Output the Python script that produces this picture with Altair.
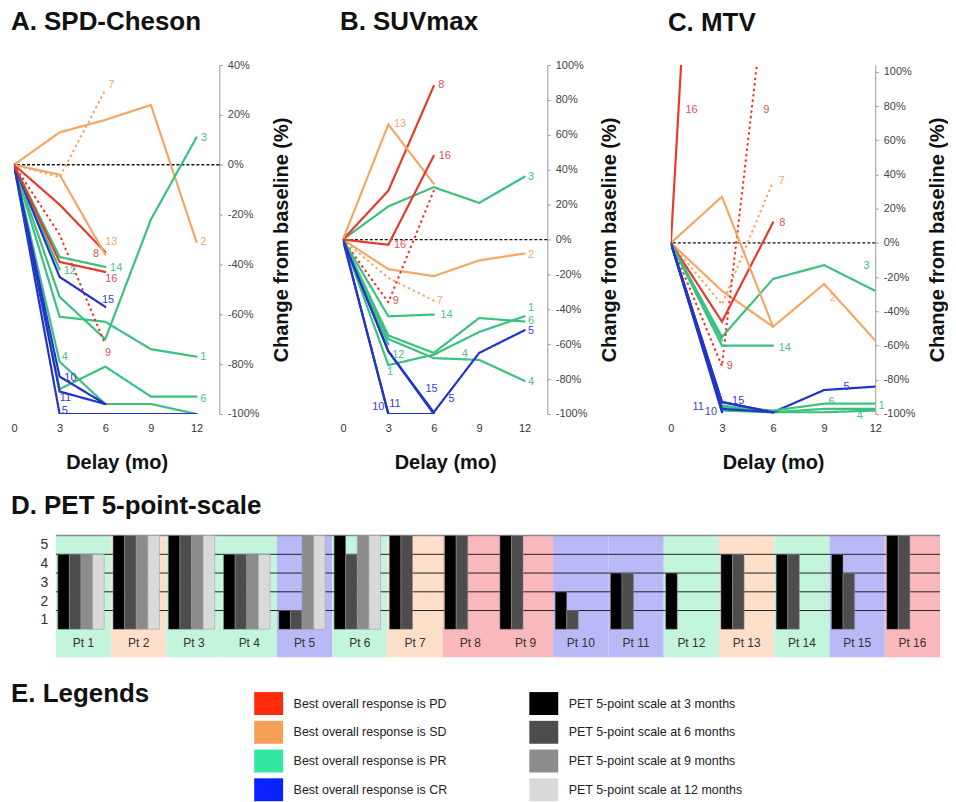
import altair as alt
import pandas as pd

FONT = "Liberation Sans"

months = [0, 3, 6, 9, 12]
patients = list(range(1, 17))
response = ["PR", "SD", "PR", "PR", "CR", "PR", "SD", "PD",
            "PD", "CR", "CR", "PR", "SD", "PR", "CR", "PD"]
dotted_patients = [7, 9]

resp_order = ["PD", "SD", "PR", "CR"]
line_colors = ["#e63a2c", "#f2a865", "#3cc080", "#2233cc"]
label_colors = ["#e0505e", "#f0a870", "#4cc08a", "#3c3ccc"]
legend_colors = ["#ff2a0a", "#f5a055", "#30e8a0", "#0a22ff"]
bg_colors = ["#f9b8bb", "#fddfca", "#c3f5dc", "#b9b9f7"]
gray_colors = ["#000000", "#4d4d4d", "#8c8c8c", "#d9d9d9"]

# ---- values (month 0,3,6,9,12) ----
spd = {
    1: [0, -61, -63, -74, -77], 2: [0, 13, 18, 24, -31], 3: [0, -53, -70, -22, 11],
    4: [0, -79, -96, -96, -100], 5: [0, -100, -100, -100, -100], 6: [0, -90, -81, -93, -93],
    7: [0, -5, 30], 8: [0, -16, -35], 9: [0, -28, -72], 10: [0, -85, -96],
    11: [0, -91, -96], 12: [0, -42], 13: [0, -4, -36], 14: [0, -37, -41],
    15: [0, -45, -57], 16: [0, -39, -43],
}
suv = {
    1: [0, -72, -66, -53, -44], 2: [0, -17, -21, -12, -8], 3: [0, 19, 30, 21, 36],
    4: [0, -57, -68, -69, -81], 5: [0, -64, -99, -65, -52], 6: [0, -55, -65, -45, -47],
    7: [0, -22, -35], 8: [0, 28, 88], 9: [0, -36, 28], 10: [0, -100],
    11: [0, -100, -100], 12: [0, -60], 13: [0, 66, 32], 14: [0, -44, -43],
    15: [0, -64, -100], 16: [0, -3, 48],
}
mtv = {
    1: [0, -95, -99, -97, -97], 2: [0, -28, -49, -24, -57], 3: [0, -55, -21, -13, -28],
    4: [0, -98, -99, -99, -98], 5: [0, -93, -99, -86, -84], 6: [0, -96, -98, -94, -94],
    7: [0, -36, 36], 8: [0, -46, 12], 9: [0, -72, 186], 10: [0, -99],
    11: [0, -97, -99], 12: [0, -57], 13: [0, 27, -49], 14: [0, -60, -60],
    15: [0, -93, -99], 16: [0, 520],
}

# patient-number labels: (patient, month, value)
spd_labels = [
    (7, 6.4, 32), (3, 12.5, 10.7), (2, 12.45, -31), (13, 6.4, -31), (8, 5.4, -36),
    (14, 6.72, -41.6), (16, 6.4, -46), (12, 3.67, -42.7), (15, 6.18, -54.3),
    (9, 6.18, -75.6), (1, 12.45, -77.3), (4, 3.34, -77.3), (10, 3.71, -85.7),
    (11, 3.38, -93.7), (6, 12.45, -94), (5, 3.34, -98.7),
]
suv_labels = [
    (8, 6.5, 88.6), (13, 3.77, 66), (16, 6.73, 47.6), (3, 12.43, 35.6), (16, 3.77, -3.4),
    (2, 12.43, -8.6), (9, 3.5, -35.2), (7, 6.4, -35.2), (14, 6.84, -43.2), (1, 12.43, -39),
    (6, 12.43, -46.7), (5, 12.43, -52.4), (12, 3.66, -66.3), (4, 8.05, -65.7),
    (1, 3.11, -75.8), (4, 12.43, -81.9), (15, 5.85, -85.7), (5, 7.17, -91.4),
    (10, 2.34, -96.2), (11, 3.44, -94.3),
]
mtv_labels = [
    (16, 1.21, 77.7), (9, 5.61, 77.7), (7, 6.5, 36), (8, 6.54, 11.6), (3, 11.49, -13.6),
    (2, 9.53, -32), (14, 6.69, -61.2), (9, 3.46, -71.8), (5, 10.31, -84.5),
    (15, 3.95, -92.2), (6, 9.43, -93.2), (1, 12.37, -95.1), (11, 1.6, -95.7),
    (10, 2.35, -99), (4, 11.1, -101),
]

# PET 5-point scale at 3, 6, 9, 12 months
pet = {
    1: [4, 4, 4, 4], 2: [5, 5, 5, 5], 3: [5, 5, 5, 5], 4: [4, 4, 4, 4],
    5: [1, 1, 5, 5], 6: [5, 4, 5, 5], 7: [5, 5], 8: [5, 5], 9: [5, 5],
    10: [2, 1], 11: [3, 3], 12: [3], 13: [4, 4], 14: [4, 4], 15: [4, 3], 16: [5, 5],
}
pet_times = ["3 months", "6 months", "9 months", "12 months"]
pet_levels = [1, 2, 3, 4, 5]

resp_texts = ["Best overall response is PD", "Best overall response is SD",
              "Best overall response is PR", "Best overall response is CR"]
pet_texts = ["PET 5-point scale at 3 months", "PET 5-point scale at 6 months",
             "PET 5-point scale at 9 months", "PET 5-point scale at 12 months"]


def ttl(text, off):
    return alt.TitleParams(text, anchor="start", frame="group", fontSize=26, dx=-3,
                           fontWeight="bold", font=FONT, offset=off, color="#111",
                           baseline="alphabetic")


def panel(title, data, labels, ydomain, yticks, xmax, width, toff):
    rows = []
    for p, vals in data.items():
        for m, v in zip(months, vals):
            rows.append(dict(pt=p, month=m, value=v, resp=response[p - 1],
                             style="dotted" if p in dotted_patients else "solid"))
    df = pd.DataFrame(rows)
    ldf = pd.DataFrame([dict(pt=p, lab=str(p), month=m, value=v, resp=response[p - 1])
                        for p, m, v in labels])
    zdf = pd.DataFrame(dict(value=[0]))
    x = alt.X("month:Q", scale=alt.Scale(domain=[0, xmax], nice=False),
              axis=alt.Axis(values=[0, 3, 6, 9, 12], title="Delay (mo)", grid=False,
                            domain=False, ticks=False, labelPadding=9,
                            labelFontSize=11, labelColor="#333", labelFont=FONT,
                            titleFont=FONT, titleFontSize=20, titleFontWeight="bold",
                            titlePadding=19, titleColor="#111", labelFlush=False))
    y = alt.Y("value:Q", scale=alt.Scale(domain=ydomain, nice=False, zero=False),
              axis=alt.Axis(orient="right", values=yticks, labelExpr="datum.value + '%'",
                            title="Change from baseline (%)", grid=False,
                            domainColor="#999", tickColor="#999", tickSize=3,
                            labelPadding=5, labelFontSize=11, labelColor="#444",
                            labelFont=FONT, titleFont=FONT, titleFontSize=20,
                            titleFontWeight="bold", titleColor="#111", titleAngle=270,
                            titleBaseline="middle", titlePadding=23, labelFlush=False))
    base_line = alt.Chart(df).mark_line(clip=True, strokeWidth=2.2, strokeCap="round").encode(
        x=x, y=y, detail="pt:N",
        color=alt.Color("resp:N", scale=alt.Scale(domain=resp_order, range=line_colors), legend=None),
        strokeDash=alt.StrokeDash("style:N", scale=alt.Scale(domain=["solid", "dotted"],
                                                           range=[[1, 0], [0.5, 5]]), legend=None),
    )
    zero = alt.Chart(zdf).mark_rule(color="#111", strokeDash=[3, 2], strokeWidth=1.3).encode(y=y)
    text = alt.Chart(ldf).mark_text(fontSize=11, font=FONT, align="center", baseline="middle").encode(
        x=x, y=y, text="lab:N",
        fill=alt.Fill("resp:N", scale=alt.Scale(domain=resp_order, range=label_colors), legend=None),
    )
    return alt.layer(zero, base_line, text).properties(width=width, height=350, title=ttl(title, toff))


A = panel("A. SPD-Cheson", spd, spd_labels, [-100, 40], list(range(-100, 41, 20)), 13.5, 206, 3)
B = panel("B. SUVmax", suv, suv_labels, [-100, 100], list(range(-100, 101, 20)), 13.5, 205, 3)
C = panel("C. MTV", mtv, mtv_labels, [-100, 104], list(range(-100, 101, 20)), 12, 205, 8.5)

top = alt.hconcat(A, B, C, spacing=124, bounds="flush")

# ---- D. PET 5-point scale ----
bg_df = pd.DataFrame([dict(idx=i, resp=response[i], lab=f"Pt {p}") for i, p in enumerate(patients)])
bar_df = pd.DataFrame([dict(idx=p - 1, k=k, t=pet_times[k], v=v)
                       for p, vals in pet.items() for k, v in enumerate(vals)])
lev_df = pd.DataFrame(dict(lv=pet_levels))

xs = alt.Scale(domain=[-0.7576, 16], nice=False, zero=False)
ys = alt.Scale(domain=[-1.49, 5], nice=False, zero=False)
yax = alt.Axis(values=[0.5, 1.5, 2.5, 3.5, 4.5], labelExpr="datum.value + 0.5", title=None,
               domain=False, ticks=False, grid=False, labelFontSize=14, labelColor="#333",
               labelFont=FONT, offset=-42, labelPadding=8)

bgl = alt.Chart(bg_df).transform_calculate(x0="datum.idx", x1="datum.idx + 1", y0="-1.49", y1="5").mark_rect().encode(
    x=alt.X("x0:Q", scale=xs, axis=None), x2="x1:Q",
    y=alt.Y("y0:Q", scale=ys, axis=yax), y2="y1:Q",
    fill=alt.Fill("resp:N", scale=alt.Scale(domain=resp_order, range=bg_colors), legend=None))
rules = alt.Chart(lev_df).transform_filter("datum.lv < 5").transform_calculate(
    x0="0", x1="16").mark_rule(color="#222", strokeWidth=1).encode(
    y=alt.Y("lv:Q", scale=ys, axis=yax), x=alt.X("x0:Q", scale=xs, axis=None), x2="x1:Q")
toprule = alt.Chart(lev_df).transform_filter("datum.lv == 5").transform_calculate(
    x0="0", x1="16").mark_rule(color="#888", strokeWidth=1.5).encode(
    y=alt.Y("lv:Q", scale=ys, axis=yax), x=alt.X("x0:Q", scale=xs, axis=None), x2="x1:Q")
bars = alt.Chart(bar_df).transform_calculate(
    x0="datum.idx + 0.035 + datum.k * 0.21", x1="datum.idx + 0.035 + (datum.k + 1) * 0.21", y0="0"
).mark_rect(stroke="#999", strokeWidth=0.5).encode(
    x=alt.X("x0:Q", scale=xs, axis=None), x2="x1:Q",
    y=alt.Y("y0:Q", scale=ys, axis=yax), y2="v:Q",
    color=alt.Color("t:N", scale=alt.Scale(domain=pet_times, range=gray_colors), legend=None))
ptxt = alt.Chart(bg_df).transform_calculate(xm="datum.idx + 0.5", ym="-0.745").mark_text(
    fontSize=12, font=FONT, color="#333", baseline="middle").encode(
    x=alt.X("xm:Q", scale=xs, axis=None), y=alt.Y("ym:Q", scale=ys, axis=yax), text="lab:N")

D = alt.layer(bgl, rules, toprule, bars, ptxt).properties(
    width=929, height=122, title=ttl("D. PET 5-point-scale", -5.5))

# ---- E. Legends ----
leg_df = pd.DataFrame(
    [dict(col=0, row=r, key=t) for r, t in enumerate(resp_texts)] +
    [dict(col=1, row=r, key=t) for r, t in enumerate(pet_texts)])
ex = alt.X("col:Q", scale=alt.Scale(domain=[0, 1], range=[255.5, 531.5]), axis=None)
ey = alt.Y("row:Q", scale=alt.Scale(domain=[0, 3], range=[0, 86.5]), axis=None)
sq = alt.Chart(leg_df).mark_rect(width=29, height=23).encode(
    x=ex, y=ey,
    color=alt.Color("key:N", scale=alt.Scale(domain=resp_texts + pet_texts,
                                             range=legend_colors + gray_colors), legend=None))
lt = alt.Chart(leg_df).mark_text(align="left", baseline="middle", dx=25, fontSize=12.5,
                                 font=FONT, color="#222").encode(x=ex, y=ey, text="key:N")
E = alt.layer(sq, lt).properties(width=929, height=87, title=ttl("E. Legends", -35.5))

bottom = alt.vconcat(D, E, spacing=23.5).resolve_scale(color="independent", fill="independent")

chart = alt.vconcat(top, bottom, spacing=20).resolve_scale(
    color="independent", fill="independent"
).properties(
    padding={"left": 2, "top": 0, "right": 0, "bottom": 0}
).configure(font=FONT).configure_view(stroke=None)

chart.save("out.html", embed_options={"renderer": "svg", "actions": False})
